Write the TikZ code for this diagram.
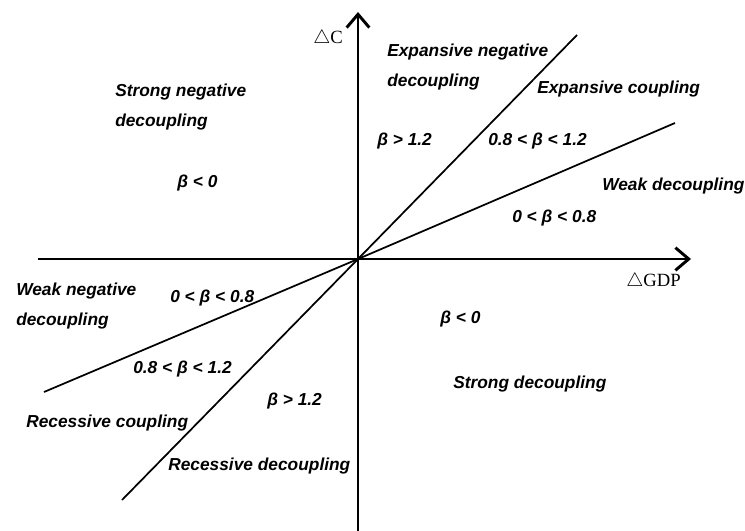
\documentclass[tikz,border=0pt]{standalone}
\usepackage{fontspec}
\setmainfont{Liberation Serif}
\setsansfont{Liberation Sans}
\usetikzlibrary{arrows.meta}

\begin{document}
\begin{tikzpicture}[
  x=0.75pt, y=-0.75pt,
  axis/.style={line width=2.2pt, -{Straight Barb[length=10pt, width=17pt]}},
  ray/.style={line width=1.3pt},
  lbl/.style={font=\sffamily\bfseries\itshape\fontsize{13}{22.5}\selectfont, anchor=base west, inner sep=0pt, align=left},
  axlbl/.style={font=\fontsize{14}{16}\selectfont, anchor=base west, inner sep=0pt},
]
\useasboundingbox (0,0) rectangle (745,531);
\coordinate (O) at (358,259);
\coordinate (xl) at (38,259);
\coordinate (xr) at (691,259);
\coordinate (yb) at (358,531);
\coordinate (yt) at (358,12);
\coordinate (s1) at (577,35);
\coordinate (s2) at (122,500);
\coordinate (w1) at (675,123);
\coordinate (w2) at (44,392);
\draw[axis] (xl) -- (xr);
\draw[axis] (yb) -- (yt);
\draw[ray] (s2) -- (O) -- (s1);
\draw[ray] (w2) -- (O) -- (w1);
\node[axlbl] (dc) at (313,44) {$\triangle$C};
\node[axlbl] (dgdp) at (626,286) {$\triangle$GDP};
\node[lbl] (expneg) at (387,87) {Expansive negative\\decoupling};
\node[lbl] (expcpl) at (537,94) {Expansive coupling};
\node[lbl] (strneg) at (115,127) {Strong negative\\decoupling};
\node[lbl] (bgt1) at (377,146) {β > 1.2};
\node[lbl] (bmid1) at (488,146) {0.8 < β < 1.2};
\node[lbl] (bneg1) at (177,187) {β < 0};
\node[lbl] (weakdec) at (602,190) {Weak decoupling};
\node[lbl] (blow1) at (512,222) {0 < β < 0.8};
\node[lbl] (weakneg) at (16,325) {Weak negative\\decoupling};
\node[lbl] (blow2) at (170,302) {0 < β < 0.8};
\node[lbl] (bneg2) at (440,323) {β < 0};
\node[lbl] (bmid2) at (133,373) {0.8 < β < 1.2};
\node[lbl] (strdec) at (453,388) {Strong decoupling};
\node[lbl] (bgt2) at (267,405) {β > 1.2};
\node[lbl] (reccpl) at (26,427) {Recessive coupling};
\node[lbl] (recdec) at (168,470) {Recessive decoupling};
\end{tikzpicture}
\end{document}
